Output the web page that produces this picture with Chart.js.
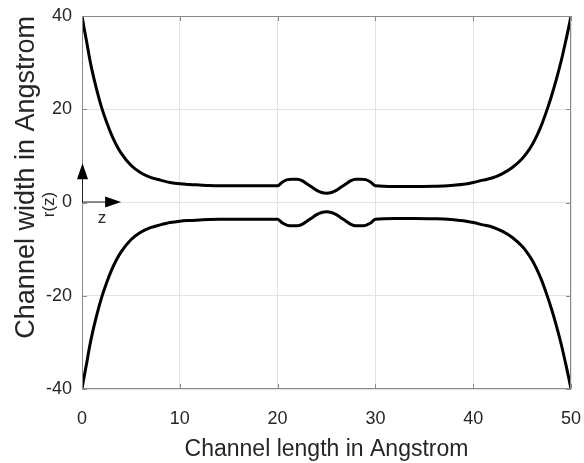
<!DOCTYPE html>
<html lang="en">
<head>
  <meta charset="UTF-8">
  <title>Channel profile</title>
  <style>
    html, body { margin: 0; padding: 0; background: #fff; }
    .wrap { width: 584px; height: 463px; }
  </style>
</head>
<body>
  <div class="wrap">
    <canvas id="channelChart" width="584" height="463"></canvas>
  </div>

  <script src="https://cdn.jsdelivr.net/npm/chart.js"></script>
  <script>
    // channel length positions (Angstrom)
    const zPos = [0, 0.25, 0.5, 0.75, 1, 1.5, 2, 2.5, 3, 3.5, 4, 5, 6, 7, 8, 9, 10, 11, 12, 13, 14, 16, 18, 20,
      20.5, 21, 21.5, 22, 22.5, 23, 23.5, 24, 24.5, 25, 25.5, 26, 26.5, 27, 27.5, 28, 28.5, 29, 29.5, 30,
      32, 34, 36, 37, 38, 39, 40, 41, 42, 43, 44, 45, 45.5, 46, 46.5, 47, 47.5, 48, 48.5, 49, 49.5, 49.75, 50];
    // upper wall r(z)
    const rUpper = [40, 37, 34.2, 31.2, 28.6, 24.2, 20.4, 17.3, 14.6, 12.4, 10.6, 8.0, 6.4, 5.4, 4.8, 4.3, 4.0, 3.85, 3.75, 3.65, 3.6, 3.6, 3.6, 3.6,
      4.4, 4.9, 5.0, 5.0, 4.7, 4.0, 3.3, 2.6, 2.15, 2.0, 2.15, 2.6, 3.3, 4.0, 4.7, 5.0, 5.0, 4.9, 4.4, 3.6,
      3.45, 3.45, 3.5, 3.55, 3.7, 3.9, 4.3, 4.8, 5.3, 6.2, 7.5, 9.4, 10.7, 12.3, 14.3, 16.7, 19.6, 22.8, 26.4, 30.4, 35, 37.4, 40];
    // lower wall -r(z)
    const rLower = [-40, -37, -34.2, -31.2, -28.6, -24.2, -20.4, -17.3, -14.6, -12.4, -10.6, -8.0, -6.4, -5.4, -4.8, -4.3, -4.0, -3.85, -3.75, -3.65, -3.6, -3.6, -3.6, -3.6,
      -4.4, -4.9, -5.0, -5.0, -4.7, -4.0, -3.3, -2.6, -2.15, -2.0, -2.15, -2.6, -3.3, -4.0, -4.7, -5.0, -5.0, -4.9, -4.4, -3.6,
      -3.45, -3.45, -3.5, -3.55, -3.7, -3.9, -4.3, -4.8, -5.3, -6.2, -7.5, -9.4, -10.7, -12.3, -14.3, -16.7, -19.6, -22.8, -26.4, -30.4, -35, -37.4, -40];

    const xTicks = [0, 10, 20, 30, 40, 50];
    const yTicks = [-40, -20, 0, 20, 40];

    // little axis arrows drawn at the origin (data units)
    const arrowR = 8.4;   // tip of the r(z) arrow
    const arrowZ = 4.0;   // tip of the z arrow

    const FONT = "'Liberation Sans', Arial, sans-serif";

    const toPoints = (xs, ys) => xs.map((x, i) => ({ x: x, y: ys[i] }));

    // box around the plot area, inward ticks, origin arrows and labels
    const boxAndArrows = {
      id: 'boxAndArrows',
      afterDraw(chart) {
        const { ctx, chartArea: a, scales: { x, y } } = chart;
        ctx.save();
        ctx.strokeStyle = '#8a8a8a';
        ctx.lineWidth = 1;
        ctx.strokeRect(a.left + 0.5, a.top + 0.5, a.right - a.left - 1, a.bottom - a.top - 1);
        ctx.beginPath();
        xTicks.forEach(v => {
          const px = Math.round(x.getPixelForValue(v)) + 0.5;
          ctx.moveTo(px, a.bottom); ctx.lineTo(px, a.bottom - 5);
          ctx.moveTo(px, a.top); ctx.lineTo(px, a.top + 5);
        });
        yTicks.forEach(v => {
          const py = Math.round(y.getPixelForValue(v)) + 0.5;
          ctx.moveTo(a.left, py); ctx.lineTo(a.left + 5, py);
          ctx.moveTo(a.right, py); ctx.lineTo(a.right - 5, py);
        });
        ctx.stroke();

        const ox = x.getPixelForValue(0);
        const oy = y.getPixelForValue(0);
        const tipY = y.getPixelForValue(arrowR);
        const tipX = x.getPixelForValue(arrowZ);

        ctx.strokeStyle = '#222';
        ctx.lineWidth = 1;
        ctx.beginPath();
        ctx.moveTo(ox + 0.5, oy); ctx.lineTo(ox + 0.5, tipY + 14);
        ctx.moveTo(ox, oy - 0.5); ctx.lineTo(tipX - 14, oy - 0.5);
        ctx.stroke();

        ctx.fillStyle = '#000';
        ctx.beginPath();
        ctx.moveTo(ox + 0.5, tipY);
        ctx.lineTo(ox - 5, tipY + 16);
        ctx.lineTo(ox + 6, tipY + 16);
        ctx.closePath();
        ctx.fill();
        ctx.beginPath();
        ctx.moveTo(tipX, oy - 0.5);
        ctx.lineTo(tipX - 16, oy - 6);
        ctx.lineTo(tipX - 16, oy + 5);
        ctx.closePath();
        ctx.fill();

        ctx.fillStyle = '#262626';
        ctx.font = '17px ' + FONT;
        ctx.textAlign = 'center';
        ctx.textBaseline = 'middle';
        ctx.fillText('z', ox + 20, oy + 16);
        ctx.translate(ox - 33, oy + 2);
        ctx.rotate(-Math.PI / 2);
        ctx.fillText('r(z)', 0, 0);
        ctx.restore();
      }
    };

    const config = {
      type: 'line',
      data: {
        datasets: [
          {
            label: 'upper',
            data: toPoints(zPos, rUpper),
            borderColor: '#000',
            borderWidth: 3,
            pointRadius: 0,
            cubicInterpolationMode: 'monotone',
            fill: false
          },
          {
            label: 'lower',
            data: toPoints(zPos, rLower),
            borderColor: '#000',
            borderWidth: 3,
            pointRadius: 0,
            cubicInterpolationMode: 'monotone',
            fill: false
          }
        ]
      },
      options: {
        responsive: false,
        animation: false,
        layout: { padding: { top: 16, right: 0, bottom: 0, left: 0 } },
        plugins: {
          legend: { display: false },
          tooltip: { enabled: false }
        },
        scales: {
          x: {
            type: 'linear',
            min: 0,
            max: 50,
            afterBuildTicks: s => { s.ticks = xTicks.map(v => ({ value: v })); },
            afterFit: s => { s.height = 74; s.paddingLeft = 0; s.paddingRight = 13; },
            grid: { color: '#e3e3e3', drawTicks: false },
            border: { display: false },
            ticks: { color: '#262626', padding: 19, font: { family: FONT, size: 18 } },
            title: {
              display: true,
              text: 'Channel length in Angstrom',
              color: '#262626',
              padding: { top: 0, bottom: 0 },
              font: { family: FONT, size: 23 }
            }
          },
          y: {
            type: 'linear',
            min: -40,
            max: 40,
            afterBuildTicks: s => { s.ticks = yTicks.map(v => ({ value: v })); },
            afterFit: s => { s.width = 82; s.paddingTop = 0; s.paddingBottom = 0; },
            grid: { color: '#e3e3e3', drawTicks: false },
            border: { display: false },
            ticks: { color: '#262626', padding: 10, font: { family: FONT, size: 18 } },
            title: {
              display: true,
              text: 'Channel width in Angstrom',
              color: '#262626',
              align: 'end',
              padding: { top: 10, bottom: 0 },
              font: { family: FONT, size: 27 }
            }
          }
        }
      },
      plugins: [boxAndArrows]
    };

    window.addEventListener('load', () => {
      const ctx = document.getElementById('channelChart').getContext('2d');
      new Chart(ctx, config);
    });
  </script>
</body>
</html>
